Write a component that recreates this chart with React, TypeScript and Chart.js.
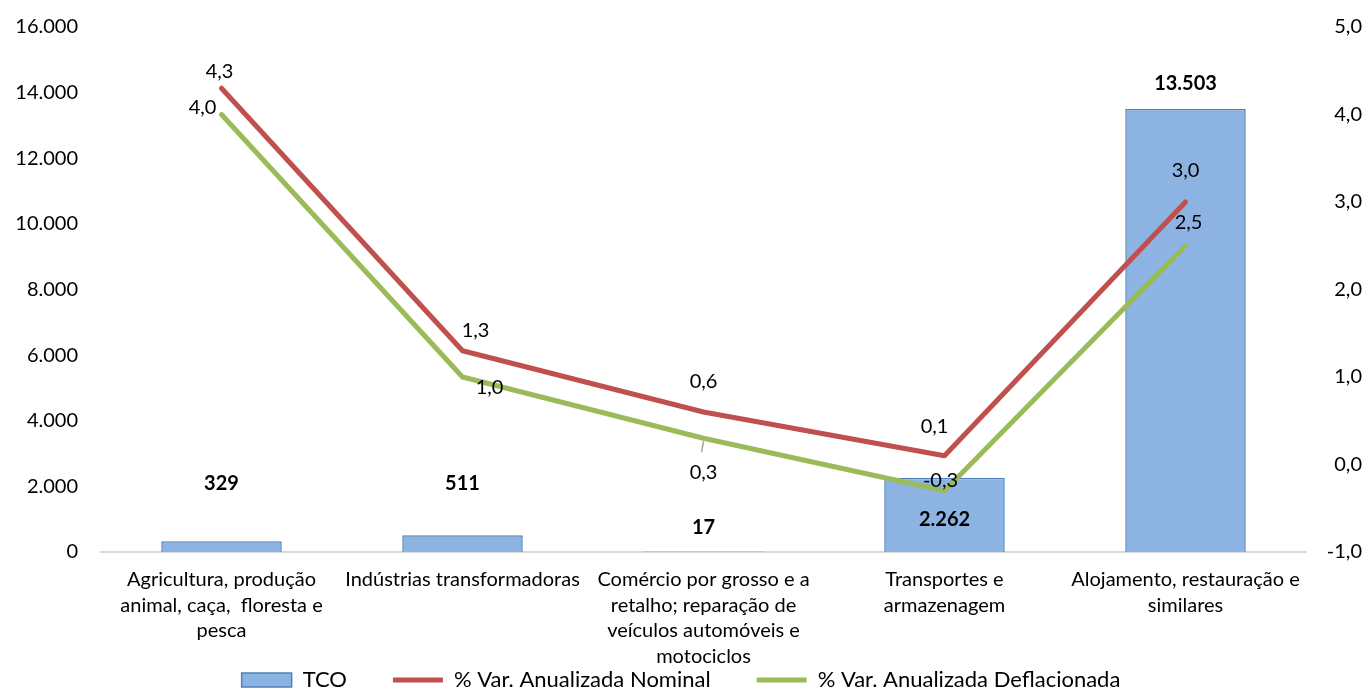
import { useEffect, useRef } from 'react';
import { Chart, registerables } from 'chart.js';

Chart.register(...registerables);

const categories: string[][] = [
  ['Agricultura, produção', 'animal, caça,  floresta e', 'pesca'],
  ['Indústrias transformadoras'],
  ['Comércio por grosso e a', 'retalho; reparação de', 'veículos automóveis e', 'motociclos'],
  ['Transportes e', 'armazenagem'],
  ['Alojamento, restauração e', 'similares'],
];
const tco = [329, 511, 17, 2262, 13503];
const nominal = [4.3, 1.3, 0.6, 0.1, 3.0];
const deflated = [4.0, 1.0, 0.3, -0.3, 2.5];
const seriesNames = ['TCO', '% Var. Anualizada Nominal', '% Var. Anualizada Deflacionada'];

const FONT = 'Lato';
const fmtThousands = (n: number) => String(Math.round(n)).replace(/\B(?=(\d{3})+(?!\d))/g, '.');
const fmtDecimal = (n: number) => n.toFixed(1).replace('.', ',');

// label placement tweaks (pixels), styling only
const barLabelDy = [-58, -52, -24, 42, -25];
const nominalLabelOffset = [[-2, -17], [13, -20], [0, -30], [-10, -29], [0, -31]];
const deflatedLabelOffset = [[-19, -7], [27, 11], [0, 34], [-4, -10], [3, -23]];

const LEGEND_PAD = 46;
const LEGEND_FONT = 22;
const LEGEND_TEXT_Y = 680;

const labelPlugin = {
  id: 'valueLabels',
  afterLayout(chart: any) {
    const lg = chart.legend;
    if (lg) {
      lg.top = LEGEND_TEXT_Y - LEGEND_PAD - LEGEND_FONT / 2;
      lg.bottom = chart.height;
      lg.height = lg.bottom - lg.top;
    }
  },
  afterDatasetsDraw(chart: any) {
    const ctx = chart.ctx;
    ctx.save();
    ctx.textAlign = 'center';
    ctx.textBaseline = 'middle';
    ctx.fillStyle = '#000';
    const barMeta = chart.getDatasetMeta(0);
    ctx.font = `bold 20px ${FONT}`;
    barMeta.data.forEach((el: any, i: number) => {
      ctx.fillText(fmtThousands(tco[i]), el.x, el.y + barLabelDy[i]);
    });
    ctx.font = `20px ${FONT}`;
    const nomMeta = chart.getDatasetMeta(1);
    nomMeta.data.forEach((el: any, i: number) => {
      const [dx, dy] = nominalLabelOffset[i];
      ctx.fillText(fmtDecimal(nominal[i]), el.x + dx, el.y + dy);
    });
    const defMeta = chart.getDatasetMeta(2);
    defMeta.data.forEach((el: any, i: number) => {
      const [dx, dy] = deflatedLabelOffset[i];
      ctx.fillText(fmtDecimal(deflated[i]), el.x + dx, el.y + dy);
      if (i === 2) {
        ctx.strokeStyle = '#A6A6A6';
        ctx.lineWidth = 1.5;
        ctx.beginPath();
        ctx.moveTo(el.x, el.y + 3);
        ctx.lineTo(el.x - 2, el.y + 14);
        ctx.stroke();
      }
    });
    ctx.restore();
  },
};

export default function App() {
  const ref = useRef<HTMLCanvasElement>(null);
  useEffect(() => {
    document.body.style.margin = '0';
    const chart = new Chart(ref.current!, {
      type: 'bar',
      data: {
        labels: categories,
        datasets: [
          {
            type: 'bar',
            label: seriesNames[0],
            data: tco,
            yAxisID: 'y',
            backgroundColor: '#8DB3E2',
            borderColor: '#4F81BD',
            borderWidth: 1.5,
            barPercentage: 0.5,
            categoryPercentage: 1,
            order: 2,
            pointStyle: 'rect',
          } as any,
          {
            type: 'line',
            label: seriesNames[1],
            data: nominal,
            yAxisID: 'y1',
            borderColor: '#C0504D',
            backgroundColor: '#C0504D',
            borderWidth: 5,
            pointRadius: 0,
            pointStyle: 'line',
            tension: 0,
            borderCapStyle: 'round',
            borderJoinStyle: 'round',
            order: 1,
          } as any,
          {
            type: 'line',
            label: seriesNames[2],
            data: deflated,
            yAxisID: 'y1',
            borderColor: '#9BBB59',
            backgroundColor: '#9BBB59',
            borderWidth: 5,
            pointRadius: 0,
            pointStyle: 'line',
            tension: 0,
            borderCapStyle: 'round',
            borderJoinStyle: 'round',
            order: 0,
          } as any,
        ],
      },
      options: {
        responsive: false,
        animation: false,
        layout: { padding: { top: 18, right: 7, left: 0, bottom: 0 } },
        plugins: {
          tooltip: { enabled: false },
          legend: {
            position: 'bottom',
            maxHeight: 21,
            labels: {
              usePointStyle: true,
              pointStyleWidth: 50,
              boxHeight: 14,
              padding: LEGEND_PAD,
              color: '#000',
              font: { family: FONT, size: LEGEND_FONT },
              sort: (a: any, b: any) => a.datasetIndex - b.datasetIndex,
            },
          },
        },
        scales: {
          x: {
            grid: { display: false },
            border: { display: true, color: '#D9D9D9', width: 2 },
            ticks: {
              maxRotation: 0,
              autoSkip: false,
              color: '#000',
              padding: 7,
              font: { family: FONT, size: 20, lineHeight: 1.275 },
            },
            afterFit: (s: any) => { s.height = 118; },
          },
          y: {
            position: 'left',
            min: 0,
            max: 16000,
            grid: { display: false },
            border: { display: false },
            ticks: {
              stepSize: 2000,
              color: '#000',
              padding: 15,
              font: { family: FONT, size: 20 },
              callback: (v: any) => fmtThousands(Number(v)),
            },
            afterFit: (s: any) => { s.width = 101; },
          },
          y1: {
            position: 'right',
            min: -1,
            max: 5,
            grid: { display: false },
            border: { display: false },
            ticks: {
              stepSize: 1,
              color: '#000',
              crossAlign: 'far',
              font: { family: FONT, size: 20 },
              callback: (v: any) => fmtDecimal(Number(v)),
            },
            afterFit: (s: any) => { s.width = 56; },
          },
        },
      } as any,
      plugins: [labelPlugin],
    });
    return () => chart.destroy();
  }, []);
  return (
    <div style={{ position: 'fixed', left: 0, top: 0, width: 1369, height: 691 }}>
      <canvas ref={ref} width={1369} height={691} style={{ display: 'block' }} />
    </div>
  );
}
